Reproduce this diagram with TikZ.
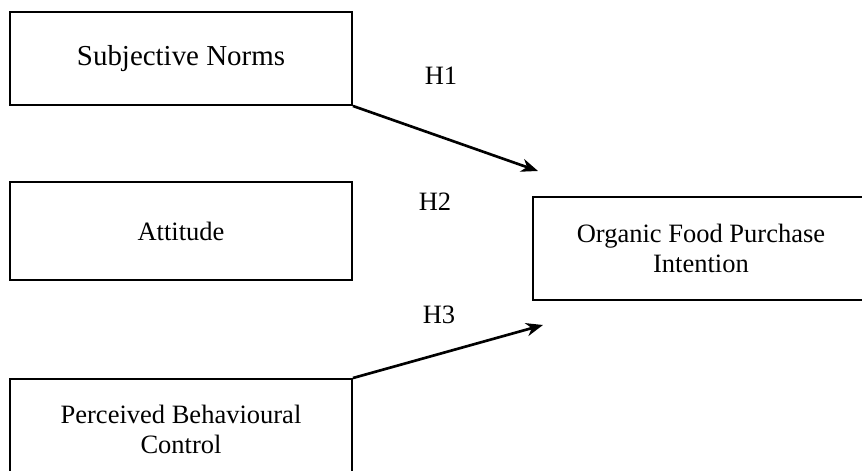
\documentclass[tikz,border=0pt]{standalone}
\usepackage{fontspec}
\setmainfont{Liberation Serif}
\usetikzlibrary{arrows.meta}

\begin{document}
\begin{tikzpicture}[x = 0.415pt, y = -0.415pt,
        construct/.style = {draw, line width = 0.8pt, align = center, font = \fontsize{11}{12.5}\selectfont},
        hyp/.style = {font = \fontsize{11}{12.5}\selectfont},
        effect/.style = {-{Stealth[length = 7pt, width = 5.5pt, inset = 2.2pt]}, line width = 1.1pt}]
        \useasboundingbox (0,0) rectangle (862,471);
        \clip (0,0) rectangle (862,471);

        % Predictors
        \node[construct, minimum width = 141.9pt, minimum height = 38.6pt, font = \fontsize{12}{13.8}\selectfont] (norms) at (181,58.5) {Subjective Norms};
        \node[construct, minimum width = 141.9pt, minimum height = 40.7pt] (attitude) at (181,231) {Attitude};
        \node[construct, minimum width = 141.9pt, minimum height = 41.5pt] (control) at (181,429) {Perceived Behavioural\\Control};

        % Outcome
        \node[construct, minimum width = 139.4pt, minimum height = 42.7pt] (intention) at (701,248.5) {Organic Food Purchase\\Intention};

        % Hypotheses
        \node[hyp] (h1) at (441,76) {H1};
        \node[hyp] (h2) at (435,202) {H2};
        \node[hyp] (h3) at (439,315) {H3};

        \coordinate (t1) at (538,171);
        \coordinate (t3) at (543,325);
        \draw[effect] (norms.south east) -- (t1);
        \draw[effect] (control.north east) -- (t3);
    \end{tikzpicture}
\end{document}
